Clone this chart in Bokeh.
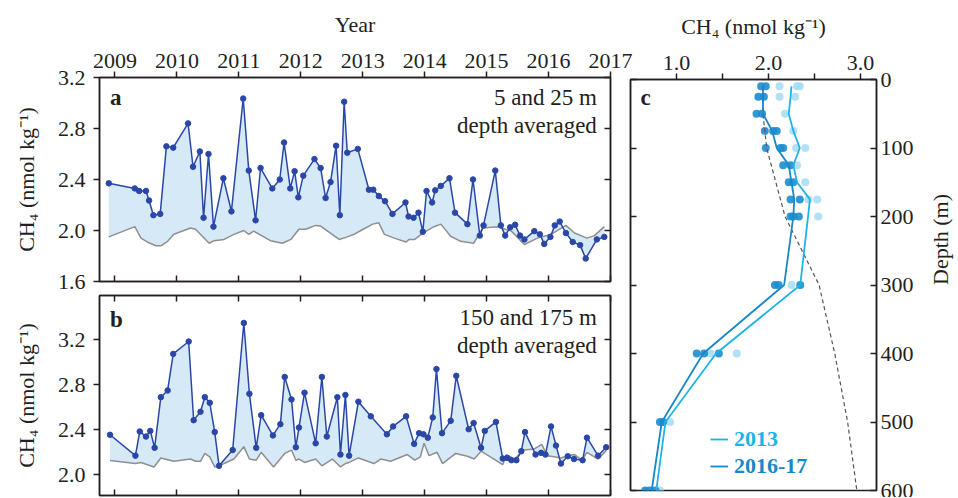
import math
from bokeh.plotting import figure
from bokeh.layouts import row, column
from bokeh.models import (Range1d, LinearAxis, FixedTicker, PrintfTickFormatter,
                          Label, Legend, LegendItem)
from bokeh.embed import file_html
from bokeh.resources import INLINE

# ---------------- data ----------------
years = [2009, 2010, 2011, 2012, 2013, 2014, 2015, 2016, 2017]

# panel a : 5 and 25 m depth averaged
a_t = [2008.90, 2009.32, 2009.39, 2009.50, 2009.55, 2009.62, 2009.73, 2009.83, 2009.94, 2010.18,
       2010.26, 2010.37, 2010.43, 2010.51, 2010.59, 2010.75, 2010.88, 2011.07, 2011.16, 2011.27,
       2011.35, 2011.54, 2011.66, 2011.73, 2011.83, 2011.90, 2011.96, 2012.04, 2012.22, 2012.32,
       2012.40, 2012.48, 2012.57, 2012.63, 2012.70, 2012.75, 2012.92, 2013.10, 2013.17, 2013.26,
       2013.36, 2013.48, 2013.69, 2013.74, 2013.82, 2013.90, 2013.97, 2014.03, 2014.12, 2014.17,
       2014.26, 2014.40, 2014.49, 2014.69, 2014.78, 2014.89, 2014.95, 2015.14, 2015.23, 2015.30,
       2015.38, 2015.46, 2015.54, 2015.61, 2015.77, 2015.86, 2015.93, 2016.03, 2016.10, 2016.18,
       2016.28, 2016.39, 2016.51, 2016.60, 2016.78, 2016.90]
a_ch4 = [2.37, 2.33, 2.31, 2.31, 2.235, 2.12, 2.13, 2.66, 2.65, 2.84,
         2.50, 2.62, 2.10, 2.60, 2.03, 2.41, 2.15, 3.035, 2.47, 2.08,
         2.49, 2.33, 2.40, 2.69, 2.33, 2.465, 2.26, 2.43, 2.56, 2.49,
         2.255, 2.38, 2.665, 2.12, 3.01, 2.61, 2.64, 2.32, 2.32, 2.27,
         2.23, 2.13, 2.22, 2.11, 2.10, 2.14, 1.99, 2.31, 2.22, 2.315,
         2.35, 2.41, 2.14, 2.05, 2.40, 1.96, 2.04, 2.47, 2.04, 1.96,
         2.025, 2.045, 1.96, 1.93, 1.995, 1.97, 1.895, 1.95, 2.04, 2.07,
         1.98, 1.91, 1.885, 1.78, 1.93, 1.95]
a_eq_t = [2008.90, 2009.32, 2009.42, 2009.52, 2009.66, 2009.74, 2009.85, 2009.95, 2010.22, 2010.30,
          2010.52, 2010.60, 2010.76, 2010.92, 2011.08, 2011.16, 2011.24, 2011.51, 2011.70, 2011.84,
          2011.97, 2012.08, 2012.24, 2012.32, 2012.62, 2012.75, 2012.86, 2012.97, 2013.16, 2013.26,
          2013.35, 2013.51, 2013.70, 2013.75, 2013.84, 2013.97, 2014.15, 2014.26, 2014.42, 2014.58,
          2014.79, 2014.94, 2015.18, 2015.40, 2015.61, 2015.82, 2016.04, 2016.28, 2016.42, 2016.62,
          2016.74, 2016.90]
a_eq = [1.95, 2.03, 1.94, 1.91, 1.88, 1.88, 1.915, 1.97, 2.02, 2.01,
        1.90, 1.92, 1.93, 1.97, 2.00, 1.97, 1.995, 1.92, 1.90, 1.93,
        2.01, 2.01, 2.04, 2.035, 1.93, 1.95, 1.97, 2.00, 2.05, 2.06,
        1.97, 1.94, 1.91, 1.93, 1.93, 1.98, 2.03, 2.05, 1.955, 1.915,
        1.90, 2.02, 2.03, 1.995, 1.89, 1.94, 1.97, 2.04, 1.98, 1.94,
        1.96, 2.03]

# panel b : 150 and 175 m depth averaged
b_t = [2008.92, 2009.33, 2009.40, 2009.50, 2009.57, 2009.64, 2009.74, 2009.85, 2009.94, 2010.19,
       2010.27, 2010.38, 2010.45, 2010.53, 2010.61, 2010.68, 2010.90, 2011.08, 2011.17, 2011.28,
       2011.36, 2011.55, 2011.67, 2011.74, 2011.85, 2011.92, 2011.97, 2012.06, 2012.24, 2012.34,
       2012.42, 2012.59, 2012.64, 2012.72, 2012.78, 2012.93, 2013.13, 2013.39, 2013.49, 2013.70,
       2013.83, 2013.91, 2013.98, 2014.05, 2014.13, 2014.19, 2014.28, 2014.42, 2014.51, 2014.71,
       2014.79, 2014.91, 2014.97, 2015.15, 2015.26, 2015.33, 2015.40, 2015.48, 2015.56, 2015.62,
       2015.79, 2015.88, 2015.95, 2016.04, 2016.12, 2016.20, 2016.31, 2016.41, 2016.55, 2016.62,
       2016.80, 2016.93]
b_ch4 = [2.356, 2.17, 2.385, 2.34, 2.39, 2.24, 2.69, 2.75, 3.075, 3.185,
         2.485, 2.56, 2.69, 2.64, 2.38, 2.08, 2.22, 3.35, 2.72, 2.24,
         2.53, 2.35, 2.45, 2.87, 2.67, 2.245, 2.42, 2.73, 2.28, 2.87,
         2.34, 2.69, 2.18, 2.71, 2.17, 2.65, 2.52, 2.36, 2.43, 2.52,
         2.275, 2.37, 2.36, 2.33, 2.51, 2.94, 2.37, 2.48, 2.88, 2.405,
         2.46, 2.24, 2.39, 2.47, 2.145, 2.15, 2.13, 2.13, 2.21, 2.38,
         2.18, 2.195, 2.18, 2.43, 2.26, 2.10, 2.165, 2.14, 2.13, 2.33,
         2.17, 2.245]
b_eq_t = [2008.92, 2009.33, 2009.42, 2009.63, 2009.74, 2009.95, 2010.22, 2010.30, 2010.38, 2010.45,
          2010.53, 2010.61, 2010.68, 2010.92, 2011.08, 2011.17, 2011.28, 2011.36, 2011.56, 2011.74,
          2011.85, 2011.92, 2011.97, 2012.06, 2012.24, 2012.34, 2012.51, 2012.64, 2012.72, 2012.78,
          2012.93, 2013.18, 2013.29, 2013.45, 2013.72, 2013.84, 2013.93, 2013.99, 2014.07, 2014.20,
          2014.29, 2014.50, 2014.69, 2014.80, 2014.91, 2015.26, 2015.32, 2015.45, 2015.60, 2015.77,
          2015.89, 2015.98, 2016.09, 2016.20, 2016.31, 2016.42, 2016.54, 2016.62, 2016.80, 2016.93]
b_eq = [2.127, 2.10, 2.11, 2.07, 2.15, 2.12, 2.14, 2.12, 2.12, 2.19,
        2.16, 2.07, 2.08, 2.14, 2.25, 2.14, 2.13, 2.20, 2.07, 2.19,
        2.22, 2.13, 2.14, 2.11, 2.14, 2.08, 2.14, 2.07, 2.10, 2.11,
        2.15, 2.10, 2.14, 2.12, 2.18, 2.13, 2.16, 2.28, 2.17, 2.20,
        2.10, 2.19, 2.165, 2.14, 2.21, 2.09, 2.18, 2.14, 2.22, 2.23,
        2.27, 2.17, 2.16, 2.15, 2.17, 2.18, 2.13, 2.20, 2.14, 2.215]

# panel c : depth profiles
prof_depth = [10, 25, 50, 75, 100, 125, 150, 175, 200, 300, 400, 500, 600]
prof_2013 = [2.25, 2.24, 2.22, 2.27, 2.34, 2.27, 2.31, 2.45, 2.43, 2.345, 1.43, 0.88, 0.78]
prof_2016 = [1.94, 1.94, 1.94, 2.04, 2.09, 2.22, 2.25, 2.28, 2.27, 2.17, 1.29, 0.84, 0.73]
eq_depth = [10, 50, 100, 200, 300, 400, 500, 600]
eq_ch4 = [1.94, 1.94, 1.98, 2.18, 2.55, 2.72, 2.86, 2.96]
pts16_depth = [10, 10, 25, 25, 50, 50, 75, 75, 75, 100, 100, 100, 125, 125, 150, 150,
               175, 175, 200, 200, 200, 300, 300, 300, 400, 400, 400, 500, 500, 600, 600, 600]
pts16_ch4 = [1.92, 1.97, 1.89, 1.95, 1.87, 1.93, 1.96, 2.05, 2.09, 1.97, 2.13, 2.16, 2.16, 2.24,
             2.22, 2.27, 2.24, 2.34, 2.24, 2.27, 2.33, 2.07, 2.11, 2.345, 1.22, 1.30, 1.46,
             0.82, 0.855, 0.66, 0.71, 0.77]
pts13_depth = [10, 10, 10, 25, 25, 50, 75, 100, 100, 125, 150, 175, 175, 200, 300, 400, 400, 500, 600]
pts13_ch4 = [2.12, 2.31, 2.34, 2.12, 2.29, 2.18, 2.27, 2.30, 2.40, 2.31, 2.40, 2.435, 2.53, 2.54,
             2.25, 1.37, 1.655, 0.93, 0.82]

a_ticks = [1.6, 2.0, 2.4, 2.8, 3.2]
b_ticks = [2.0, 2.4, 2.8, 3.2]
c_xticks = [1.0, 2.0, 3.0]
c_xminor = [1.5, 2.5]
c_yticks = [0, 100, 200, 300, 400, 500, 600]

# ---------------- style ----------------
FONT = "Liberation Serif"
INK = "#231f20"
BLUE = "#2a47a8"
FILL = "#d5e9f7"
GRAY = "#8f8f8f"
C13 = "#1db3ea"
C16 = "#1a87c9"
DOT16 = "#1b8dd2"
DOT13 = "#a5daf4"
YLAB = "CH\u2084 (nmol kg\u207b\u00b9)"


def style_axis(ax, tick_in=0, tick_out=6, labels=True, standoff=6, title_standoff=8):
    ax.axis_line_color = INK
    ax.axis_line_width = 1.5
    ax.major_tick_line_color = INK
    ax.major_tick_line_width = 1.5
    ax.major_tick_in = tick_in
    ax.major_tick_out = tick_out
    ax.minor_tick_line_color = None
    ax.major_label_text_font = FONT
    ax.major_label_text_color = INK
    ax.axis_label_text_font = FONT
    ax.axis_label_text_font_style = "normal"
    ax.axis_label_text_font_size = "22px"
    ax.axis_label_text_color = INK
    ax.axis_label_standoff = title_standoff
    if labels:
        ax.major_label_text_font_size = "22px"
        ax.major_label_standoff = standoff
    else:
        ax.major_label_text_font_size = "1px"
        ax.major_label_text_color = None
        ax.major_label_standoff = 0


def base(**kw):
    p = figure(output_backend="svg", toolbar_location=None, **kw)
    p.xgrid.grid_line_color = None
    p.ygrid.grid_line_color = None
    p.outline_line_color = INK
    p.outline_line_width = 1.5
    p.outline_line_alpha = 1.0
    return p


def ts_panel(t, v, et, ev, yr, yticks, ftop, fh, bottom, top_labels):
    p = base(frame_width=511, frame_height=fh,
             x_range=Range1d(2008.75, 2017.0), y_range=yr,
             x_axis_location="above",
             min_border_left=99, min_border_right=34,
             min_border_top=ftop, min_border_bottom=bottom)
    xa = p.xaxis[0]
    xa.ticker = FixedTicker(ticks=years)
    xa.formatter = PrintfTickFormatter(format="%d")
    if top_labels:
        style_axis(xa, 0, 6, True, standoff=4, title_standoff=14)
        xa.axis_label = "Year"
    else:
        style_axis(xa, 6, 0, False)
    ya = p.yaxis[0]
    ya.ticker = FixedTicker(ticks=yticks)
    ya.formatter = PrintfTickFormatter(format="%.1f")
    style_axis(ya, 0, 6, True, standoff=8, title_standoff=16)
    ya.axis_label = YLAB
    ra = LinearAxis(ticker=FixedTicker(ticks=yticks))
    style_axis(ra, 6, 0, False)
    p.add_layout(ra, "right")
    ba = LinearAxis(ticker=FixedTicker(ticks=years))
    style_axis(ba, 6, 0, False)
    p.add_layout(ba, "below")
    # shaded area between measured and equilibrium
    p.patch(x=list(t) + list(et)[::-1], y=list(v) + list(ev)[::-1],
            fill_color=FILL, line_color=None)
    p.line(et, ev, line_color=GRAY, line_width=1.5)
    p.line(t, v, line_color=BLUE, line_width=1.5)
    p.scatter(t, v, size=5.5, fill_color=BLUE, line_color=BLUE)
    return p


pa = ts_panel(a_t, a_ch4, a_eq_t, a_eq, Range1d(1.6, 3.2), a_ticks, 77, 204, 12, True)
pb = ts_panel(b_t, b_ch4, b_eq_t, b_eq, Range1d(1.816, 3.594), b_ticks, 2, 200, 2, False)


def add_text(p, x, y, text, align="left", bold=False, size="23px"):
    p.add_layout(Label(x=x, y=y, text=text, text_align=align, text_baseline="middle",
                       text_font=FONT, text_font_size=size, text_color=INK,
                       text_font_style="bold" if bold else "normal"))


add_text(pa, 2008.92, 3.04, "a", bold=True)
add_text(pa, 2016.78, 3.04, "5 and 25 m", align="right")
add_text(pa, 2016.78, 2.82, "depth averaged", align="right")
add_text(pb, 2008.92, 3.38, "b", bold=True)
add_text(pb, 2016.78, 3.40, "150 and 175 m", align="right")
add_text(pb, 2016.78, 3.15, "depth averaged", align="right")

# ---------------- panel c ----------------
pc = base(frame_width=246, frame_height=411,
          x_range=Range1d(0.5, 3.174), y_range=Range1d(600, 0),
          x_axis_location="above", y_axis_location="right",
          min_border_left=8, min_border_right=80, min_border_top=79, min_border_bottom=7)
pc.border_fill_color = None
pc.margin = (0, 0, 0, -22)
xa = pc.xaxis[0]
xa.ticker = FixedTicker(ticks=c_xticks, minor_ticks=c_xminor)
xa.formatter = PrintfTickFormatter(format="%.1f")
style_axis(xa, 0, 6, True, standoff=4, title_standoff=14)
xa.minor_tick_line_color = INK
xa.minor_tick_line_width = 1.5
xa.minor_tick_in = 0
xa.minor_tick_out = 6
xa.axis_label = YLAB
ya = pc.yaxis[0]
ya.ticker = FixedTicker(ticks=c_yticks)
style_axis(ya, 6, 0, True, standoff=4, title_standoff=24)
ya.axis_label = "Depth (m)"
try:
    ya.axis_label_orientation = math.pi / 2
    ya.axis_label_text_align = "center"
except Exception:
    pass
la = LinearAxis(ticker=FixedTicker(ticks=c_yticks))
style_axis(la, 6, 0, False)
pc.add_layout(la, "left")

pc.scatter(pts13_ch4, pts13_depth, size=8, fill_color=DOT13, line_color=None, fill_alpha=0.85)
pc.scatter(pts16_ch4, pts16_depth, size=8, fill_color=DOT16, line_color=None, fill_alpha=0.9)
pc.line(eq_ch4, eq_depth, line_color="#555555", line_width=1.2, line_dash="4 3")
r16 = pc.line(prof_2016, prof_depth, line_color=C16, line_width=1.8)
r13 = pc.line(prof_2013, prof_depth, line_color=C13, line_width=1.8)
add_text(pc, 0.61, 26, "c", bold=True)

for label, rend, col, loc in [("2013", r13, C13, (80, 38)), ("2016-17", r16, C16, (80, 11))]:
    lg = Legend(items=[LegendItem(label=label, renderers=[rend])], location=loc)
    lg.border_line_color = None
    lg.background_fill_alpha = 0
    lg.label_text_font = FONT
    lg.label_text_font_style = "bold"
    lg.label_text_font_size = "22px"
    lg.label_text_color = col
    lg.glyph_width = 18
    lg.glyph_height = 24
    lg.label_height = 24
    lg.label_standoff = 6
    lg.padding = 0
    lg.margin = 0
    lg.spacing = 0
    pc.add_layout(lg)

layout = row(column(pa, pb), pc)
open("out.html", "w").write(file_html(layout, INLINE))
